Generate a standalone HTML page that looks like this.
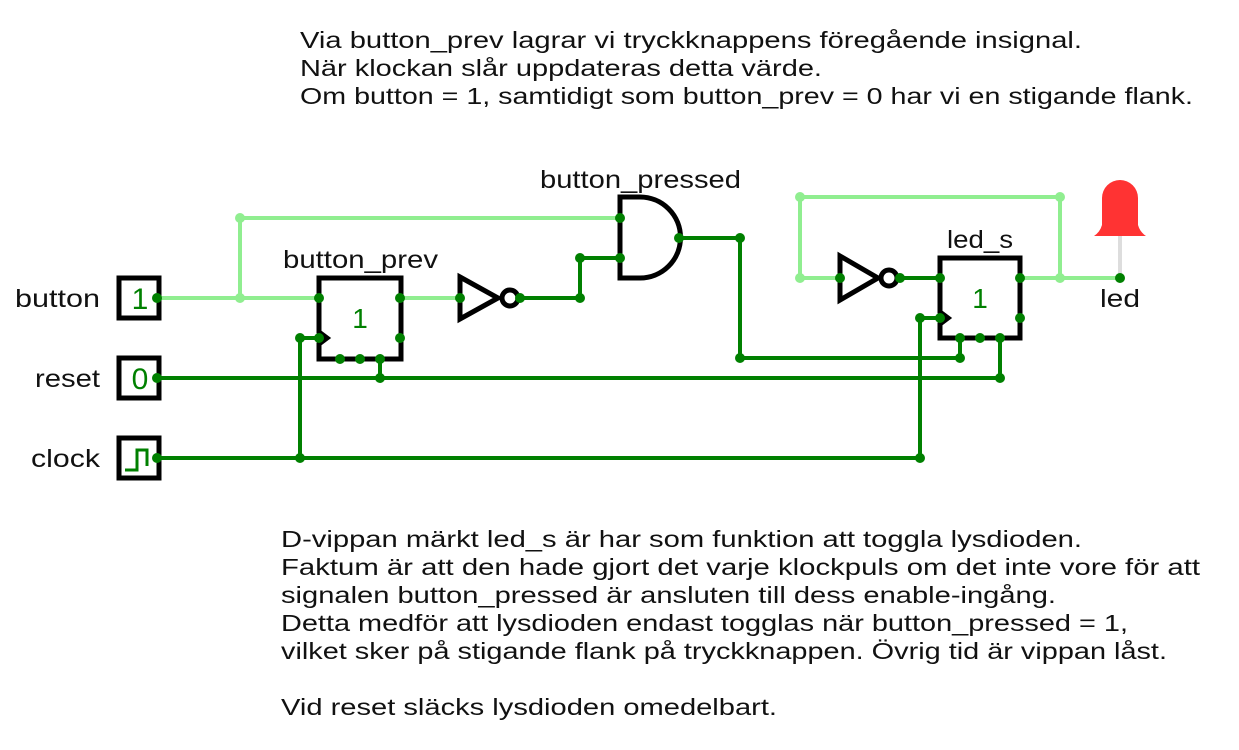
<!DOCTYPE html>
<html><head><meta charset="utf-8"><style>html,body{margin:0;padding:0;background:#fff}svg{display:block}text{font-family:"Liberation Sans",sans-serif;fill:#111}</style></head>
<body>
<svg width="1239" height="750" viewBox="0 0 1239 750" xmlns="http://www.w3.org/2000/svg">
<g font-size="23">
<text x="300" y="48" textLength="782" lengthAdjust="spacingAndGlyphs">Via button_prev lagrar vi tryckknappens föregående insignal.</text>
<text x="300" y="76" textLength="522" lengthAdjust="spacingAndGlyphs">När klockan slår uppdateras detta värde.</text>
<text x="300" y="104" textLength="893" lengthAdjust="spacingAndGlyphs">Om button = 1, samtidigt som button_prev = 0 har vi en stigande flank.</text>
<text x="281" y="547" textLength="801" lengthAdjust="spacingAndGlyphs">D-vippan märkt led_s är har som funktion att toggla lysdioden.</text>
<text x="281" y="575" textLength="919" lengthAdjust="spacingAndGlyphs">Faktum är att den hade gjort det varje klockpuls om det inte vore för att</text>
<text x="281" y="603" textLength="775" lengthAdjust="spacingAndGlyphs">signalen button_pressed är ansluten till dess enable-ingång.</text>
<text x="281" y="631" textLength="847" lengthAdjust="spacingAndGlyphs">Detta medför att lysdioden endast togglas när button_pressed = 1,</text>
<text x="281" y="659" textLength="886" lengthAdjust="spacingAndGlyphs">vilket sker på stigande flank på tryckknappen. Övrig tid är vippan låst.</text>
<text x="281" y="715" textLength="496" lengthAdjust="spacingAndGlyphs">Vid reset släcks lysdioden omedelbart.</text>
</g>
<g font-size="25">
<text x="15" y="307" textLength="85" lengthAdjust="spacingAndGlyphs">button</text>
<text x="35" y="387" textLength="65" lengthAdjust="spacingAndGlyphs">reset</text>
<text x="31" y="467" textLength="69" lengthAdjust="spacingAndGlyphs">clock</text>
<text x="283" y="268" textLength="155" lengthAdjust="spacingAndGlyphs">button_prev</text>
<text x="540" y="188" textLength="201" lengthAdjust="spacingAndGlyphs">button_pressed</text>
<text x="947" y="248" textLength="66" lengthAdjust="spacingAndGlyphs">led_s</text>
<text x="1100" y="307" textLength="40" lengthAdjust="spacingAndGlyphs">led</text>
</g>
<g stroke="#90ee90" stroke-width="4" fill="none">
<polyline points="150,298 319,298"/>
<polyline points="240,298 240,218 620,218"/>
<polyline points="400,298 460,298"/>
<polyline points="840,278 800,278 800,197 1060,197 1060,278"/>
<polyline points="1020,278 1120,278"/>
</g>
<g stroke="#008000" stroke-width="4" fill="none">
<polyline points="520,298 580,298 580,258 620,258"/>
<polyline points="679,238 740,238 740,358 960,358 960,338"/>
<polyline points="150,378 1000,378 1000,338"/>
<polyline points="380,359 380,378"/>
<polyline points="150,458 920,458 920,318 940,318"/>
<polyline points="300,458 300,338 319,338"/>
<polyline points="900,278 940,278"/>
</g>
<line x1="1120" y1="236" x2="1120" y2="278" stroke="#ddd" stroke-width="4"/>
<path d="M1102,225 L1102,198 A18,18 0 0 1 1138,198 L1138,225 Q1140,232 1146,236 L1094,236 Q1100,232 1102,225 Z" fill="#ff3333"/>
<g stroke="#000" stroke-width="5" fill="#fff">
<rect x="119" y="278" width="40" height="40"/>
<rect x="119" y="358" width="40" height="40"/>
<rect x="119" y="438" width="40" height="40"/>
</g>
<text x="140" y="309" font-size="30" text-anchor="middle" style="fill:#008000">1</text>
<text x="140" y="389" font-size="30" text-anchor="middle" style="fill:#008000">0</text>
<polyline points="125,470 137,470 137,450 147,450 147,466" stroke="#008000" stroke-width="3" fill="none"/>
<g stroke="#000" stroke-width="5" fill="none">
<path d="M319,278 H401 V359 H319 V344 L327,338 L319,332 Z"/>
<path d="M940,258 H1020 V338 H940 V324 L948,318 L940,312 Z"/>
<path d="M460,277 L498,298 L460,319 Z"/>
<circle cx="510" cy="298" r="8"/>
<path d="M840,256 L878,278 L840,300 Z"/>
<circle cx="889" cy="278" r="8"/>
<path d="M620,197 H640 A40,40 0 0 1 640,278 H620 Z"/>
</g>
<text x="360" y="328" font-size="28" text-anchor="middle" style="fill:#008000">1</text>
<text x="980" y="308" font-size="28" text-anchor="middle" style="fill:#008000">1</text>
<g fill="#90ee90">
<circle cx="240" cy="218" r="5"/><circle cx="240" cy="298" r="5"/>
<circle cx="800" cy="197" r="5"/><circle cx="1060" cy="197" r="5"/>
<circle cx="800" cy="278" r="5"/><circle cx="1060" cy="278" r="5"/>
</g>
<g fill="#008000">
<circle cx="157" cy="298" r="5"/><circle cx="157" cy="378" r="5"/><circle cx="157" cy="458" r="5"/>
<circle cx="319" cy="298" r="5"/><circle cx="400" cy="298" r="5"/><circle cx="400" cy="338" r="5"/><circle cx="319" cy="338" r="5"/>
<circle cx="340" cy="359" r="5"/><circle cx="360" cy="359" r="5"/><circle cx="380" cy="359" r="5"/><circle cx="380" cy="378" r="5"/>
<circle cx="300" cy="338" r="5"/><circle cx="300" cy="458" r="5"/>
<circle cx="460" cy="298" r="5"/><circle cx="520" cy="298" r="5"/><circle cx="580" cy="298" r="5"/><circle cx="580" cy="258" r="5"/>
<circle cx="620" cy="218" r="5"/><circle cx="620" cy="258" r="5"/><circle cx="679" cy="238" r="5"/><circle cx="740" cy="238" r="5"/><circle cx="740" cy="358" r="5"/>
<circle cx="840" cy="278" r="5"/><circle cx="900" cy="278" r="5"/><circle cx="940" cy="278" r="5"/><circle cx="1020" cy="278" r="5"/><circle cx="1020" cy="318" r="5"/><circle cx="940" cy="318" r="5"/><circle cx="920" cy="318" r="5"/><circle cx="920" cy="458" r="5"/>
<circle cx="960" cy="338" r="5"/><circle cx="980" cy="338" r="5"/><circle cx="1000" cy="338" r="5"/><circle cx="960" cy="358" r="5"/><circle cx="1000" cy="378" r="5"/>
<circle cx="1120" cy="278" r="5"/>
</g>
</svg>
</body></html>
